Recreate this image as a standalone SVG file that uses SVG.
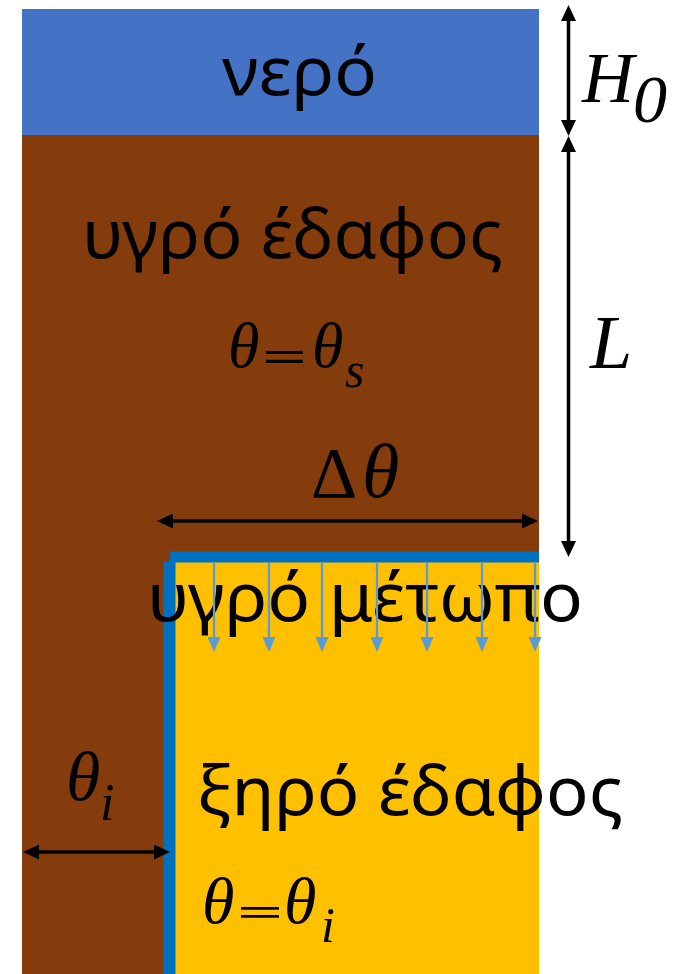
<svg xmlns="http://www.w3.org/2000/svg" width="679" height="974" viewBox="0 0 679 974">
  <style>
    .lbl { font-family: "Noto Sans", "Open Sans", sans-serif; font-size: 68px; fill: #000; }
    .math { font-family: "Liberation Serif", "Times New Roman", serif; font-style: italic; fill: #000; }
    .up { font-family: "Liberation Serif", "Times New Roman", serif; font-style: normal; fill: #000; }
    .eq { font-family: "Liberation Serif", "Times New Roman", serif; font-weight: bold; fill: #000; }
    .dim { stroke: #000; stroke-width: 3.5; fill: none; marker-start: url(#ah); marker-end: url(#ah); }
    .flow { stroke: #5B9BD5; stroke-width: 2.3; fill: none; marker-end: url(#bh); }
  </style>
  <defs>
    <marker id="ah" viewBox="0 0 16 15" markerWidth="16" markerHeight="15" refX="10" refY="7.5" markerUnits="userSpaceOnUse" orient="auto-start-reverse">
      <path d="M0,0 L16,7.5 L0,15 z" fill="#000"/>
    </marker>
    <marker id="bh" viewBox="0 0 15 13" markerWidth="15" markerHeight="13" refX="3" refY="6.5" markerUnits="userSpaceOnUse" orient="auto">
      <path d="M0,0 L15,6.5 L0,13 z" fill="#5B9BD5"/>
    </marker>
  </defs>

  <g id="water">
    <rect x="22" y="9" width="517" height="126" fill="#4472C4"/>
    <text class="lbl" x="222" y="95" textLength="155" lengthAdjust="spacingAndGlyphs">νερό</text>
  </g>

  <g id="wet-soil">
    <rect x="22" y="135" width="517" height="839" fill="#843C0C"/>
    <text class="lbl" x="82" y="258" textLength="421" lengthAdjust="spacingAndGlyphs">υγρό έδαφος</text>
    <text class="math" x="228" y="367" font-size="64">θ</text>
    <text class="eq" transform="translate(262,371) scale(1.2,0.68)" font-size="66">=</text>
    <text class="math" x="312" y="367" font-size="64">θ</text>
    <text class="math" x="345" y="387" font-size="50">s</text>
  </g>

  <g id="dry-soil">
    <rect x="170" y="557" width="369" height="417" fill="#FFC000"/>
    <text class="lbl" x="197" y="815" textLength="426" lengthAdjust="spacingAndGlyphs">ξηρό έδαφος</text>
    <text class="math" x="202" y="923" font-size="66">θ</text>
    <text class="eq" transform="translate(237,926) scale(1.2,0.58)" font-size="68">=</text>
    <text class="math" x="284" y="923" font-size="66">θ</text>
    <text class="math" x="321" y="942" font-size="50">i</text>
  </g>

  <g id="wetting-front">
    <line x1="170" y1="557" x2="539" y2="557" stroke="#0070C0" stroke-width="11"/>
    <line x1="169.5" y1="561" x2="169.5" y2="974" stroke="#0070C0" stroke-width="12"/>
    <text class="lbl" x="147" y="621" textLength="436" lengthAdjust="spacingAndGlyphs">υγρό μέτωπο</text>
  </g>

  <g id="connectors">
    <line class="flow" x1="214" y1="562" x2="214" y2="640"/>
    <line class="flow" x1="269" y1="562" x2="269" y2="640"/>
    <line class="flow" x1="322" y1="562" x2="322" y2="640"/>
    <line class="flow" x1="377" y1="562" x2="377" y2="640"/>
    <line class="flow" x1="427" y1="562" x2="427" y2="640"/>
    <line class="flow" x1="482" y1="562" x2="482" y2="640"/>
    <line class="flow" x1="535" y1="562" x2="535" y2="640"/>
    <line class="dim" x1="568.5" y1="11" x2="568.5" y2="130"/>
    <line class="dim" x1="568.5" y1="142" x2="568.5" y2="551"/>
    <line class="dim" x1="163" y1="521" x2="532" y2="521"/>
    <line class="dim" x1="29" y1="852" x2="164" y2="852"/>
  </g>

  <g id="labels">
    <text class="math" x="582" y="102" font-size="72">H</text>
    <text class="math" x="633" y="122" font-size="68">0</text>
    <text class="math" x="590" y="368" font-size="76">L</text>
    <text class="up" x="311" y="497" font-size="72">Δ</text>
    <text class="math" x="362" y="497" font-size="76">θ</text>
    <text class="math" x="66" y="800" font-size="70">θ</text>
    <text class="math" x="100" y="820" font-size="52">i</text>
  </g>
</svg>
